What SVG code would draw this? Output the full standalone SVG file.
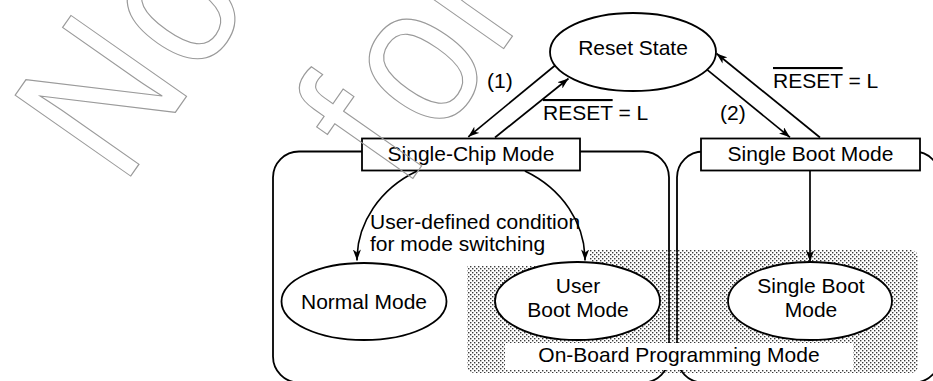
<svg xmlns="http://www.w3.org/2000/svg" width="933" height="381" viewBox="0 0 933 381">
  <defs>
    <style>
      .lbl { font-family: "Liberation Sans", Arial, sans-serif; font-size: 21px; fill: #000; }
      .mid { text-anchor: middle; }
      .ov { text-decoration: overline; }
      .frame { fill: none; stroke: #000; stroke-width: 1.8; }
      .node { fill: #fff; stroke: #000; stroke-width: 1.8; }
      .wire { fill: none; stroke: #000; stroke-width: 1.7; marker-end: url(#arrow); }
      .mark { fill: none; stroke: #9a9a9a; stroke-width: 1.2; font-family: "Liberation Sans", Arial, sans-serif; font-size: 205px; }
    </style>
    <marker id="arrow" viewBox="0 0 11 8" refX="11" refY="4" markerWidth="11" markerHeight="8" markerUnits="userSpaceOnUse" orient="auto">
      <path d="M0,0 L11,4 L0,8 L3,4 z" fill="#000"/>
    </marker>
    <pattern id="dots" width="4" height="4" patternUnits="userSpaceOnUse">
      <rect x="0" y="0" width="1.4" height="1.4" fill="#3a3a3a"/>
      <rect x="2" y="2" width="1.4" height="1.4" fill="#3a3a3a"/>
    </pattern>
  </defs>

  <rect width="933" height="381" fill="#fff"/>

  <!-- mode containers -->
  <g id="single-chip-area">
    <rect class="frame" x="273" y="151.5" width="396" height="231" rx="26"/>
  </g>
  <g id="single-boot-area">
    <rect class="frame" x="677" y="151.5" width="263" height="231" rx="26"/>
  </g>

  <!-- on-board programming region (stippled) -->
  <g id="on-board-programming">
    <rect x="467" y="250" width="451" height="123" rx="7" fill="url(#dots)"/>
    <rect x="505" y="343" width="348" height="27" fill="#fff"/>
    <text class="lbl mid" x="679" y="362">On-Board Programming Mode</text>
  </g>

  <!-- mode-switch condition label -->
  <g id="switch-condition">
    <rect x="368" y="208" width="222" height="58" fill="#fff"/>
    <text class="lbl" x="370" y="229">User-defined condition</text>
    <text class="lbl" x="370" y="250.5">for mode switching</text>
  </g>

  <g id="reset-state">
    <ellipse class="node" cx="633" cy="52" rx="83" ry="39"/>
    <text class="lbl mid" x="633" y="55">Reset State</text>
  </g>

  <g id="single-chip-mode">
    <rect class="node" x="362" y="138.5" width="218" height="32"/>
    <text class="lbl mid" x="471" y="161">Single-Chip Mode</text>
  </g>

  <g id="single-boot-mode">
    <rect class="node" x="701" y="138.5" width="219" height="32"/>
    <text class="lbl mid" x="810.5" y="161">Single Boot Mode</text>
  </g>

  <g id="normal-mode">
    <ellipse class="node" cx="364" cy="301.5" rx="82.5" ry="38.5"/>
    <text class="lbl mid" x="364" y="308.5">Normal Mode</text>
  </g>

  <g id="user-boot-mode">
    <ellipse class="node" cx="577.5" cy="301" rx="82.5" ry="39"/>
    <text class="lbl mid" x="578" y="293">User</text>
    <text class="lbl mid" x="578" y="316.5">Boot Mode</text>
  </g>

  <g id="single-boot-target">
    <ellipse class="node" cx="810" cy="301" rx="82" ry="39"/>
    <text class="lbl mid" x="811" y="293">Single Boot</text>
    <text class="lbl mid" x="811" y="316.5">Mode</text>
  </g>

  <!-- transitions -->
  <g id="connectors">
    <path class="wire" d="M555,65.5 L468.3,136.8"/>
    <path class="wire" d="M495,137.5 L568.5,78.5"/>
    <path class="wire" d="M707,69.7 L790,137.3"/>
    <path class="wire" d="M820,137.5 L716.5,53.5"/>
    <path class="wire" d="M417.1,171 A114,101 0 0 0 357,260.5"/>
    <path class="wire" d="M524.9,171 A114,101 0 0 1 585,260.5"/>
    <path class="wire" d="M810,171 L810,261.5"/>
  </g>

  <g id="transition-labels">
    <text class="lbl" x="487" y="88">(1)</text>
    <text class="lbl" x="543" y="120"><tspan class="ov">RESET</tspan> = L</text>
    <text class="lbl" x="720" y="120">(2)</text>
    <text class="lbl" x="773" y="88"><tspan class="ov">RESET</tspan> = L</text>
  </g>

  <!-- outlined background lettering -->
  <g id="watermark" class="mark">
    <text transform="translate(122.4,187.8) rotate(-55) scale(0.85,1)" dx="0 6.5">No</text>
    <text transform="translate(404,191) rotate(-55) scale(0.85,1)" dx="0 16.5 2.8">for</text>
  </g>
</svg>
